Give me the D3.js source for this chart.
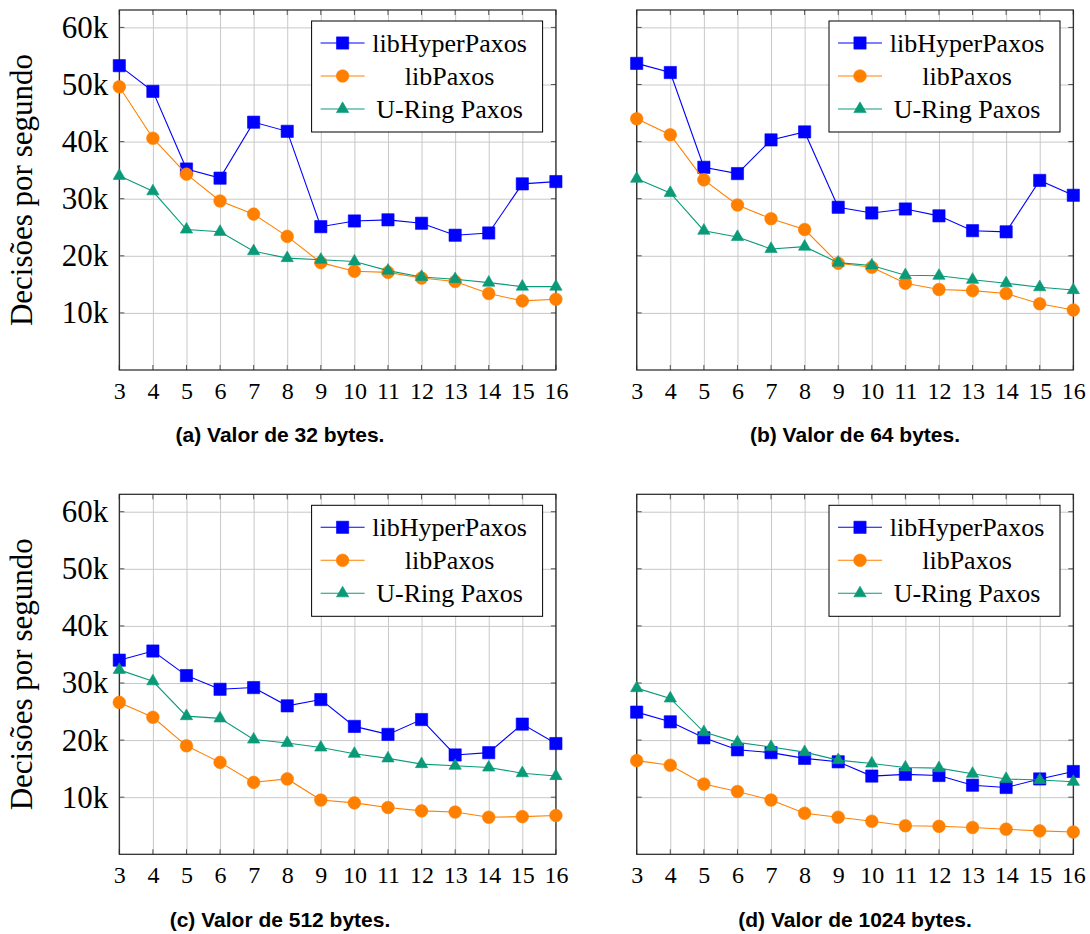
<!DOCTYPE html>
<html>
<head>
<meta charset="utf-8">
<script src="https://cdn.jsdelivr.net/npm/d3@7.9.0/dist/d3.min.js"></script>
<style>
  html, body { margin: 0; padding: 0; background: #fff; }
  svg { display: block; }
  .serif { font-family: "Liberation Serif", "Times New Roman", serif; }
  .caption { font-family: "Liberation Sans", Arial, sans-serif; font-weight: bold; font-size: 21px; }
</style>
</head>
<body>
<svg id="chart" width="1090" height="934"></svg>
<script>
// number of nodes on the x axis
const nodes = [3, 4, 5, 6, 7, 8, 9, 10, 11, 12, 13, 14, 15, 16];
const yTicks = [10000, 20000, 30000, 40000, 50000, 60000];
const seriesNames = ['libHyperPaxos', 'libPaxos', 'U-Ring Paxos'];

// decisions per second, value size 32 bytes
const hyper32 = [53300, 48800, 35200, 33600, 43400, 41800, 25100, 26100, 26300, 25700, 23600, 24000, 32600, 33000];
const paxos32 = [49600, 40600, 34300, 29600, 27300, 23400, 18800, 17300, 17100, 16100, 15500, 13400, 12100, 12400];
const ring32  = [34000, 31300, 24600, 24200, 20800, 19600, 19300, 19000, 17400, 16300, 15900, 15300, 14600, 14600];

// 64 bytes
const hyper64 = [53700, 52100, 35500, 34400, 40300, 41700, 28500, 27500, 28200, 27000, 24400, 24200, 33200, 30600];
const paxos64 = [44000, 41200, 33300, 28900, 26500, 24600, 18700, 18000, 15200, 14100, 13900, 13400, 11600, 10500];
const ring64  = [33500, 31000, 24400, 23300, 21200, 21600, 18800, 18300, 16600, 16500, 15800, 15200, 14500, 14000];

// 512 bytes
const hyper512 = [34000, 35600, 31300, 28900, 29200, 26000, 27100, 22400, 21000, 23600, 17400, 17800, 22800, 19400];
const paxos512 = [26600, 24000, 19000, 16100, 12600, 13200, 9500, 9000, 8200, 7600, 7400, 6500, 6600, 6800];
const ring512  = [32300, 30300, 24200, 23800, 20100, 19500, 18700, 17600, 16800, 15800, 15500, 15200, 14200, 13700];

// 1024 bytes
const hyper1024 = [24900, 23200, 20400, 18300, 17800, 16800, 16200, 13700, 14000, 13800, 12100, 11700, 13200, 14500];
const paxos1024 = [16400, 15600, 12300, 11000, 9500, 7200, 6500, 5800, 5000, 4900, 4700, 4400, 4100, 3900];
const ring1024  = [29100, 27300, 21400, 19600, 18800, 17900, 16500, 15900, 15200, 15100, 14100, 13200, 13000, 12700];

const captions = ['(a) Valor de 32 bytes.', '(b) Valor de 64 bytes.', '(c) Valor de 512 bytes.', '(d) Valor de 1024 bytes.'];

const colors = ['#0000ff', '#ff8000', '#0a9a78'];
const symbols = [d3.symbolSquare, d3.symbolCircle, d3.symbolTriangle];
const symbolSizes = [150, 125, 66];

const panels = [
  { series: [hyper32, paxos32, ring32], caption: captions[0], left: 119.3, top: 10, yAxis: true, capX: 280 },
  { series: [hyper64, paxos64, ring64], caption: captions[1], left: 636.7, top: 10, yAxis: false, capX: 855 },
  { series: [hyper512, paxos512, ring512], caption: captions[2], left: 119.3, top: 494.3, yAxis: true, capX: 280 },
  { series: [hyper1024, paxos1024, ring1024], caption: captions[3], left: 636.7, top: 494.3, yAxis: false, capX: 855 }
];

const W = 436.6, H = 360;
const svg = d3.select('#chart');

const x = d3.scaleLinear().domain([3, 16]).range([0, W]);
const y = d3.scaleLinear().domain([0, 63050]).range([H, 0]);

panels.forEach(p => {
  const g = svg.append('g').attr('transform', `translate(${p.left},${p.top})`);

  // grid
  g.append('g')
    .attr('transform', `translate(0,${H})`)
    .call(d3.axisBottom(x).tickValues(nodes).tickSize(-H).tickFormat(''))
    .call(s => s.select('.domain').remove())
    .selectAll('line').attr('stroke', '#c8c8c8').attr('stroke-width', 1);
  g.append('g')
    .call(d3.axisLeft(y).tickValues(yTicks).tickSize(-W).tickFormat(''))
    .call(s => s.select('.domain').remove())
    .selectAll('line').attr('stroke', '#c8c8c8').attr('stroke-width', 1);

  // small tick marks on all sides
  const tk = 5;
  const marks = g.append('g').attr('stroke', '#555').attr('stroke-width', 1);
  nodes.forEach(n => {
    marks.append('line').attr('x1', x(n)).attr('x2', x(n)).attr('y1', H).attr('y2', H - tk);
    marks.append('line').attr('x1', x(n)).attr('x2', x(n)).attr('y1', 0).attr('y2', tk);
  });
  yTicks.forEach(v => {
    marks.append('line').attr('x1', 0).attr('x2', tk).attr('y1', y(v)).attr('y2', y(v));
    marks.append('line').attr('x1', W).attr('x2', W - tk).attr('y1', y(v)).attr('y2', y(v));
  });

  // frame
  g.append('rect').attr('width', W).attr('height', H)
    .attr('fill', 'none').attr('stroke', '#222').attr('stroke-width', 1.2);

  // x tick labels
  g.append('g')
    .attr('transform', `translate(0,${H})`)
    .call(d3.axisBottom(x).tickValues(nodes).tickSize(0).tickPadding(12))
    .call(s => s.select('.domain').remove())
    .selectAll('text')
    .attr('class', 'serif').attr('font-size', 24).attr('fill', '#000');

  if (p.yAxis) {
    g.append('g')
      .call(d3.axisLeft(y).tickValues(yTicks).tickSize(0).tickPadding(11).tickFormat(d => d / 1000 + 'k'))
      .call(s => s.select('.domain').remove())
      .selectAll('text')
      .attr('class', 'serif').attr('font-size', 31).attr('fill', '#000');

    svg.append('text')
      .attr('class', 'serif')
      .attr('font-size', 31)
      .attr('text-anchor', 'middle')
      .attr('transform', `translate(31.5,${p.top + H / 2}) rotate(-90)`)
      .text('Decisões por segundo');
  }

  // series lines and markers
  p.series.forEach((vals, i) => {
    const pts = nodes.map((n, j) => [n, vals[j]]);
    g.append('path')
      .datum(pts)
      .attr('fill', 'none')
      .attr('stroke', colors[i])
      .attr('stroke-width', 1.1)
      .attr('d', d3.line().x(d => x(d[0])).y(d => y(d[1])));
    g.append('g').selectAll('path')
      .data(pts)
      .join('path')
      .attr('transform', d => `translate(${x(d[0])},${y(d[1])})`)
      .attr('d', d3.symbol(symbols[i], symbolSizes[i]))
      .attr('fill', colors[i])
      .attr('stroke', colors[i])
      .attr('stroke-width', 0.6);
  });

  // legend
  const lw = 231, lh = 111;
  const lg = g.append('g').attr('transform', `translate(${W - 13.3 - lw},11)`);
  lg.append('rect').attr('width', lw).attr('height', lh)
    .attr('fill', '#fff').attr('stroke', '#000').attr('stroke-width', 1);
  seriesNames.forEach((name, i) => {
    const ry = 22 + i * 33;
    lg.append('line').attr('x1', 9).attr('x2', 53).attr('y1', ry).attr('y2', ry)
      .attr('stroke', colors[i]).attr('stroke-width', 1.1);
    lg.append('path')
      .attr('transform', `translate(31,${ry})`)
      .attr('d', d3.symbol(symbols[i], symbolSizes[i]))
      .attr('fill', colors[i]).attr('stroke', colors[i]).attr('stroke-width', 0.6);
    lg.append('text')
      .attr('class', 'serif')
      .attr('font-size', 26)
      .attr('x', 138).attr('y', ry).attr('dy', '0.33em')
      .attr('text-anchor', 'middle')
      .text(name);
  });

  // caption
  svg.append('text')
    .attr('class', 'caption')
    .attr('x', p.capX).attr('y', p.top + H + 72.4)
    .attr('text-anchor', 'middle')
    .text(p.caption);
});
</script>
</body>
</html>
